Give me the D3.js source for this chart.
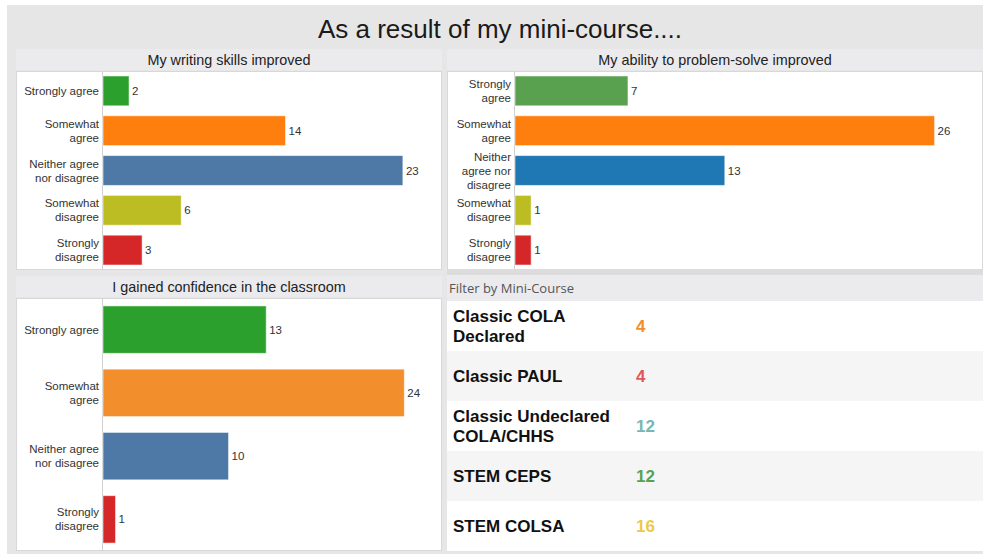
<!DOCTYPE html>
<html>
<head>
<meta charset="utf-8">
<script src="https://cdn.jsdelivr.net/npm/d3@7"></script>
<style>
  body { margin: 0; background: #fff; }
  svg { display: block; font-family: Arial, "Liberation Sans", sans-serif; }
</style>
</head>
<body>
<svg id="chart" width="983" height="554"></svg>
<script>
// survey answers
const answersFive = ["Strongly agree", "Somewhat agree", "Neither agree nor disagree", "Somewhat disagree", "Strongly disagree"];
const answersFour = ["Strongly agree", "Somewhat agree", "Neither agree nor disagree", "Strongly disagree"];

const writingValues = [2, 14, 23, 6, 3];
const problemValues = [7, 26, 13, 1, 1];
const confidenceValues = [13, 24, 10, 1];

const writingColors = ["#2ca02c", "#ff7f0e", "#4e79a7", "#bcbd22", "#d62728"];
const problemColors = ["#59a14f", "#ff7f0e", "#1f77b4", "#bcbd22", "#d62728"];
const confidenceColors = ["#2ca02c", "#f28e2b", "#4e79a7", "#d62728"];

// filter list
const courses = ["Classic COLA Declared", "Classic PAUL", "Classic Undeclared COLA/CHHS", "STEM CEPS", "STEM COLSA"];
const courseCounts = [4, 4, 12, 12, 16];
const courseColors = ["#f28e2b", "#e15759", "#76b7b2", "#59a14f", "#edc948"];

const svg = d3.select("#chart");

// dashboard background
svg.append("rect").attr("x", 7).attr("y", 5).attr("width", 976).attr("height", 549).attr("fill", "#e6e6e6");
svg.append("text")
  .attr("x", 500).attr("y", 38)
  .attr("text-anchor", "middle")
  .attr("font-size", 26)
  .attr("fill", "#1a1a1a")
  .text("As a result of my mini-course....");

// word wrap, keeps lines centred on the text's y
function wrap(sel, maxWidth, lineHeight, anchorX, fontSize) {
  sel.each(function () {
    const text = d3.select(this).attr("dy", null);
    const words = text.text().split(/\s+/);
    text.text(null);
    let lines = [], line = [];
    const probe = text.append("tspan");
    words.forEach(w => {
      line.push(w);
      probe.text(line.join(" "));
      if (probe.node().getComputedTextLength() > maxWidth && line.length > 1) {
        line.pop();
        lines.push(line.join(" "));
        line = [w];
      }
    });
    lines.push(line.join(" "));
    probe.remove();
    const offset = -(lines.length - 1) / 2 * lineHeight + 0.35 * fontSize;
    lines.forEach((l, i) => {
      text.append("tspan")
        .attr("x", anchorX)
        .attr("dy", i === 0 ? offset : lineHeight)
        .text(l);
    });
  });
}

function drawPanel(cfg) {
  const g = svg.append("g");

  // header
  g.append("rect")
    .attr("x", cfg.x0).attr("y", cfg.headY0)
    .attr("width", cfg.x1 - cfg.x0).attr("height", cfg.headY1 - cfg.headY0)
    .attr("fill", "#ebebee");
  g.append("text")
    .attr("x", (cfg.x0 + cfg.x1) / 2).attr("y", (cfg.headY0 + cfg.headY1) / 2)
    .attr("dy", "0.36em")
    .attr("text-anchor", "middle")
    .attr("font-size", 14.4)
    .attr("fill", "#222")
    .text(cfg.title);

  // plot area
  g.append("rect")
    .attr("x", cfg.x0 + 0.5).attr("y", cfg.plotY0 + 0.5)
    .attr("width", cfg.x1 - cfg.x0 - 1).attr("height", cfg.plotY1 - cfg.plotY0 - 1)
    .attr("fill", "#fff").attr("stroke", "#d8d8d8");

  const x = d3.scaleLinear().domain([0, cfg.xMax]).range([cfg.axisX, cfg.x1]);
  const y = d3.scaleBand().domain(cfg.cats).range([cfg.plotY0, cfg.plotY1])
    .paddingInner(0.25).paddingOuter(0.125);

  g.append("line")
    .attr("x1", cfg.axisX - 0.5).attr("x2", cfg.axisX - 0.5)
    .attr("y1", cfg.plotY0).attr("y2", cfg.plotY1)
    .attr("stroke", "#d0d0d0");

  const axis = g.append("g")
    .attr("transform", `translate(${cfg.axisX},0)`)
    .call(d3.axisLeft(y).tickSize(0).tickPadding(4));
  axis.select(".domain").remove();
  axis.selectAll("text")
    .attr("font-size", 11.5)
    .attr("font-family", "Arial, 'Liberation Sans', sans-serif")
    .attr("fill", "#333")
    .call(wrap, cfg.labelWidth, 14, -4, 11.5);

  const data = cfg.cats.map((c, i) => ({ c, v: cfg.values[i], col: cfg.colors[i] }));

  g.selectAll("rect.bar").data(data).enter().append("rect")
    .attr("class", "bar")
    .attr("x", x(0))
    .attr("y", d => y(d.c))
    .attr("width", d => x(d.v) - x(0))
    .attr("height", y.bandwidth())
    .attr("fill", d => d.col)
    .attr("stroke", "rgba(255,255,255,0.55)")
    .attr("stroke-width", 1);

  g.selectAll("text.val").data(data).enter().append("text")
    .attr("class", "val")
    .attr("x", d => x(d.v) + 3)
    .attr("y", d => y(d.c) + y.bandwidth() / 2)
    .attr("dy", "0.35em")
    .attr("font-size", 11.5)
    .attr("fill", "#333")
    .text(d => d.v);
}

drawPanel({
  title: "My writing skills improved",
  x0: 16, x1: 442, headY0: 49, headY1: 70, plotY0: 71, plotY1: 270,
  axisX: 103, xMax: 26, labelWidth: 80,
  cats: answersFive, values: writingValues, colors: writingColors
});

drawPanel({
  title: "My ability to problem-solve improved",
  x0: 447, x1: 983, headY0: 49, headY1: 70, plotY0: 71, plotY1: 270,
  axisX: 515, xMax: 29, labelWidth: 58,
  cats: answersFive, values: problemValues, colors: problemColors
});

drawPanel({
  title: "I gained confidence in the classroom",
  x0: 16, x1: 442, headY0: 276, headY1: 297, plotY0: 298, plotY1: 551,
  axisX: 103, xMax: 27, labelWidth: 80,
  cats: answersFour, values: confidenceValues, colors: confidenceColors
});

// filter list
const f = svg.append("g");
f.append("rect").attr("x", 447).attr("y", 269).attr("width", 536).attr("height", 6).attr("fill", "#dcdcdc");
f.append("rect").attr("x", 447).attr("y", 275).attr("width", 536).attr("height", 26).attr("fill", "#ebebee");
f.append("text")
  .attr("x", 449).attr("y", 288).attr("dy", "0.36em")
  .attr("font-family", "'Open Sans', sans-serif")
  .attr("font-size", 13)
  .attr("fill", "#555")
  .text("Filter by Mini-Course");

const rowY = d3.scaleBand().domain(courses).range([301, 551]);
const rows = courses.map((c, i) => ({ c, n: courseCounts[i], col: courseColors[i], i }));

f.selectAll("rect.row").data(rows).enter().append("rect")
  .attr("class", "row")
  .attr("x", 447).attr("y", d => rowY(d.c))
  .attr("width", 536).attr("height", rowY.bandwidth())
  .attr("fill", d => d.i % 2 ? "#f5f5f5" : "#fff");

f.selectAll("text.course").data(rows).enter().append("text")
  .attr("class", "course")
  .attr("x", 453)
  .attr("y", d => rowY(d.c) + rowY.bandwidth() / 2)
  .attr("font-size", 17).attr("font-weight", "bold")
  .attr("fill", "#111")
  .text(d => d.c)
  .call(wrap, 170, 19.5, 453, 17);

f.selectAll("text.count").data(rows).enter().append("text")
  .attr("class", "count")
  .attr("x", 636)
  .attr("y", d => rowY(d.c) + rowY.bandwidth() / 2)
  .attr("dy", "0.36em")
  .attr("font-size", 17).attr("font-weight", "bold")
  .attr("fill", d => d.col)
  .text(d => d.n);
</script>
</body>
</html>
